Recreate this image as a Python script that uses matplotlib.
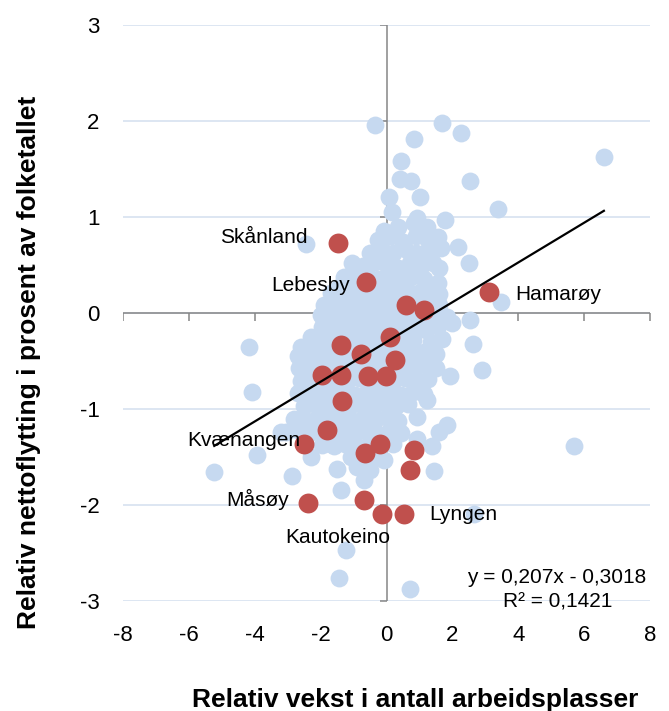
import numpy as np
import matplotlib
matplotlib.use('Agg')
import matplotlib.pyplot as plt

plt.rcParams['font.family'] = ['Liberation Sans', 'DejaVu Sans']

# Isolated municipalities (light blue)
outer_x = [-0.35, 1.69, 2.25, 0.83, 0.44, 2.55, 0.42, 0.75, 1.01, 0.08, 0.17, 1.77,
           -2.45, 3.40, 3.47, 6.60, 2.16, 2.50, 2.55, 2.62, 2.90, 1.94, 1.84, 1.59,
           1.38, 1.43, 0.93, 5.70, 2.65, -4.17, -4.07, -5.23, -3.94, -2.86, -1.39,
           -0.69, -1.24, -1.44, 0.70, -3.21, 2.00]
outer_y = [1.96, 1.98, 1.87, 1.81, 1.58, 1.38, 1.40, 1.37, 1.21, 1.21, 1.05, 0.97,
           0.72, 1.08, 0.11, 1.62, 0.69, 0.52, -0.07, -0.32, -0.59, -0.66, -1.17, -1.24,
           -1.39, -1.65, -1.31, -1.39, -2.09, -0.35, -0.82, -1.66, -1.48, -1.70, -1.84,
           -1.74, -2.47, -2.76, -2.87, -1.24, -0.10]

# Dense cloud around the origin (light blue)
core_x = [-0.09, 0.36, 0.82, 0.93, 1.24,
          -0.25, 0.15, 0.50, 0.90, 1.25, 1.55,
          -0.50, -0.15, 0.20, 0.55, 0.90, 1.25, 1.64,
          -1.05, -0.70, -0.35, 0.00, 0.35, 0.70, 1.05, 1.40, 1.58,
          -1.30, -0.95, -0.60, -0.25, 0.10, 0.45, 0.80, 1.15, 1.55,
          -1.45, -1.15, -0.80, -0.45, -0.10, 0.25, 0.60, 0.95, 1.30, 1.60,
          -1.70, -1.90, -1.55, -1.20, -0.85, -0.50, -0.15, 0.20, 0.55, 0.90, 1.25, 1.60,
          -2.00, -1.65, -1.30, -0.95, -0.60, -0.25, 0.10, 0.45, 0.80, 1.15, 1.50, 1.85,
          -2.30, -1.95, -1.60, -1.25, -0.90, -0.55, -0.20, 0.15, 0.50, 0.85, 1.20, 1.55,
          -2.60, -2.25, -1.90, -1.55, -1.20, -0.85, -0.50, -0.15, 0.20, 0.55, 0.80, 1.35, 1.70,
          -2.70, -2.35, -2.00, -1.65, -1.30, -0.95, -0.60, -0.25, 0.10, 0.45, 0.80, 1.15, 1.50,
          -2.65, -2.30, -1.95, -1.60, -1.25, -0.90, -0.55, -0.20, 0.15, 0.50, 0.85, 1.20, 1.50,
          -2.60, -2.25, -1.90, -1.55, -1.20, -0.85, -0.50, -0.15, 0.20, 0.55, 0.90, 1.25,
          -2.70, -2.35, -2.00, -1.65, -1.30, -0.95, -0.60, -0.25, 0.10, 0.45, 0.80, 1.15,
          -2.50, -2.15, -1.80, -1.45, -1.10, -0.75, -0.40, -0.05, 0.30, 0.65, 0.93, 1.24,
          -2.80, -2.45, -2.10, -1.75, -1.40, -1.05, -0.70, -0.35, 0.00, 0.35,
          -3.05, -2.70, -2.35, -2.00, -1.65, -1.30, -0.95, -0.60, -0.25, 0.10, 0.45,
          -2.30, -1.95, -1.60, -1.25, -0.90, -0.55, -0.20, 0.20,
          -1.70, -1.09, -0.70, -0.35, -0.08,
          -1.50, -0.90, -0.50]
core_y = [0.85, 0.90, 0.94, 0.99, 0.90,
          0.76, 0.80, 0.74, 0.80, 0.76, 0.79,
          0.62, 0.66, 0.63, 0.67, 0.62, 0.65, 0.68,
          0.52, 0.49, 0.53, 0.50, 0.47, 0.52, 0.49, 0.52, 0.47,
          0.38, 0.36, 0.40, 0.35, 0.38, 0.36, 0.39, 0.35, 0.31,
          0.27, 0.22, 0.25, 0.21, 0.24, 0.22, 0.26, 0.21, 0.24, 0.20,
          0.21, 0.08, 0.11, 0.08, 0.12, 0.09, 0.11, 0.08, 0.12, 0.09, 0.11, 0.08,
          -0.02, -0.05, -0.01, -0.04, -0.02, -0.05, -0.01, -0.04, -0.02, -0.05, -0.01, -0.04,
          -0.25, -0.15, -0.18, -0.14, -0.17, -0.15, -0.18, -0.14, -0.17, -0.15, -0.18, -0.14,
          -0.35, -0.30, -0.28, -0.31, -0.29, -0.32, -0.28, -0.31, -0.29, -0.32, -0.28, -0.30, -0.27,
          -0.45, -0.42, -0.44, -0.41, -0.44, -0.42, -0.45, -0.41, -0.43, -0.42, -0.45, -0.41, -0.43,
          -0.57, -0.55, -0.58, -0.54, -0.57, -0.55, -0.58, -0.54, -0.57, -0.55, -0.58, -0.54, -0.57,
          -0.71, -0.68, -0.72, -0.69, -0.71, -0.68, -0.72, -0.69, -0.71, -0.68, -0.72, -0.69,
          -0.83, -0.85, -0.82, -0.84, -0.81, -0.85, -0.82, -0.84, -0.81, -0.85, -0.82, -0.84,
          -0.97, -0.95, -0.98, -0.94, -0.97, -0.95, -0.98, -0.94, -0.97, -0.95, -1.08, -0.91,
          -1.10, -1.12, -1.09, -1.11, -1.08, -1.12, -1.09, -1.11, -1.08, -1.12,
          -1.24, -1.22, -1.25, -1.23, -1.26, -1.22, -1.25, -1.23, -1.26, -1.22, -1.25,
          -1.50, -1.37, -1.39, -1.36, -1.40, -1.37, -1.39, -1.36,
          -1.36, -1.50, -1.52, -1.49, -1.53,
          -1.62, -1.60, -1.64]

# Highlighted municipalities (red)
red_x = [-1.46, -0.63, 3.12, 0.58, 1.13, 0.12, -1.37, -0.77, 0.25, -1.95, -1.39, -0.57,
         -0.03, -1.36, -1.82, -2.50, -0.20, -0.64, 0.85, 0.71, -2.38, -0.69, -0.15, 0.52]
red_y = [0.73, 0.32, 0.22, 0.08, 0.03, -0.25, -0.33, -0.43, -0.49, -0.65, -0.65, -0.66,
         -0.66, -0.92, -1.22, -1.36, -1.36, -1.46, -1.43, -1.64, -1.98, -1.95, -2.09, -2.09]

# Name labels: text, x, y, alignment
labels = [('Skånland', -2.39, 0.73, 'right'),
          ('Lebesby', -1.12, 0.23, 'right'),
          ('Hamarøy', 3.91, 0.14, 'left'),
          ('Kvænangen', -6.06, -1.39, 'left'),
          ('Måsøy', -2.96, -2.01, 'right'),
          ('Kautokeino', -3.06, -2.40, 'left'),
          ('Lyngen', 1.31, -2.16, 'left')]

slope, intercept, r2 = 0.207, -0.3018, 0.1421

blue = '#C6D9F0'
red = '#C0504D'
axis_grey = '#868686'

fig = plt.figure(figsize=(6.69, 7.11), dpi=100)
ax = fig.add_axes([123 / 669, 110 / 711, 527 / 669, 576 / 711])
ax.set_xlim(-8, 8)
ax.set_ylim(-3, 3)
for s in ax.spines.values():
    s.set_visible(False)

xt = list(range(-8, 9, 2))
yt = list(range(-3, 4))
ax.set_xticks(xt)
ax.set_yticks(yt)
ax.set_xticklabels([str(v) for v in xt])
ax.set_yticklabels([str(v) for v in yt])
ax.tick_params(axis='x', length=0, labelsize=16, pad=17)
ax.tick_params(axis='y', length=0, labelsize=16, pad=17)
ax.grid(axis='y', color='#DAE4F1', lw=1.3)
ax.set_axisbelow(True)

# axes crossing at zero, with small tick marks
ax.axvline(0, color=axis_grey, lw=1.1, zorder=1)
ax.axhline(0, color=axis_grey, lw=1.1, zorder=1)
ax.plot(xt, [0] * len(xt), ls='', marker=3, ms=6, mew=1.1, color=axis_grey, zorder=1)
ax.plot([0] * len(yt), yt, ls='', marker=0, ms=5, mew=1.1, color=axis_grey, zorder=1)

ax.scatter(outer_x + core_x, outer_y + core_y, s=165, color=blue, lw=0, zorder=2)
ax.scatter(red_x, red_y, s=205, color=red, lw=0, zorder=3)

all_x = np.array(outer_x + core_x + red_x)
lx = np.array([all_x.min(), all_x.max()])
ax.plot(lx, slope * lx + intercept, color='black', lw=1.6, zorder=4)

for name, tx, ty, ha in labels:
    ax.text(tx, ty, name, ha=ha, va='baseline', fontsize=15, zorder=5)

eq = 'y = 0,207x - 0,3018'
ax.text(7.9, -2.81, eq, ha='right', va='baseline', fontsize=15, zorder=5)
ax.text(5.2, -3.07, 'R² = 0,1421', ha='center', va='baseline', fontsize=15, zorder=5)

fig.text(415 / 669, 4 / 711, 'Relativ vekst i antall arbeidsplasser',
         ha='center', va='baseline', fontsize=19, fontweight='bold')
fig.text(29.5 / 669, 348.5 / 711, 'Relativ nettoflytting i prosent av folketallet',
         ha='center', va='center', rotation=90, fontsize=19, fontweight='bold')

fig.savefig('out.png', dpi=100)
